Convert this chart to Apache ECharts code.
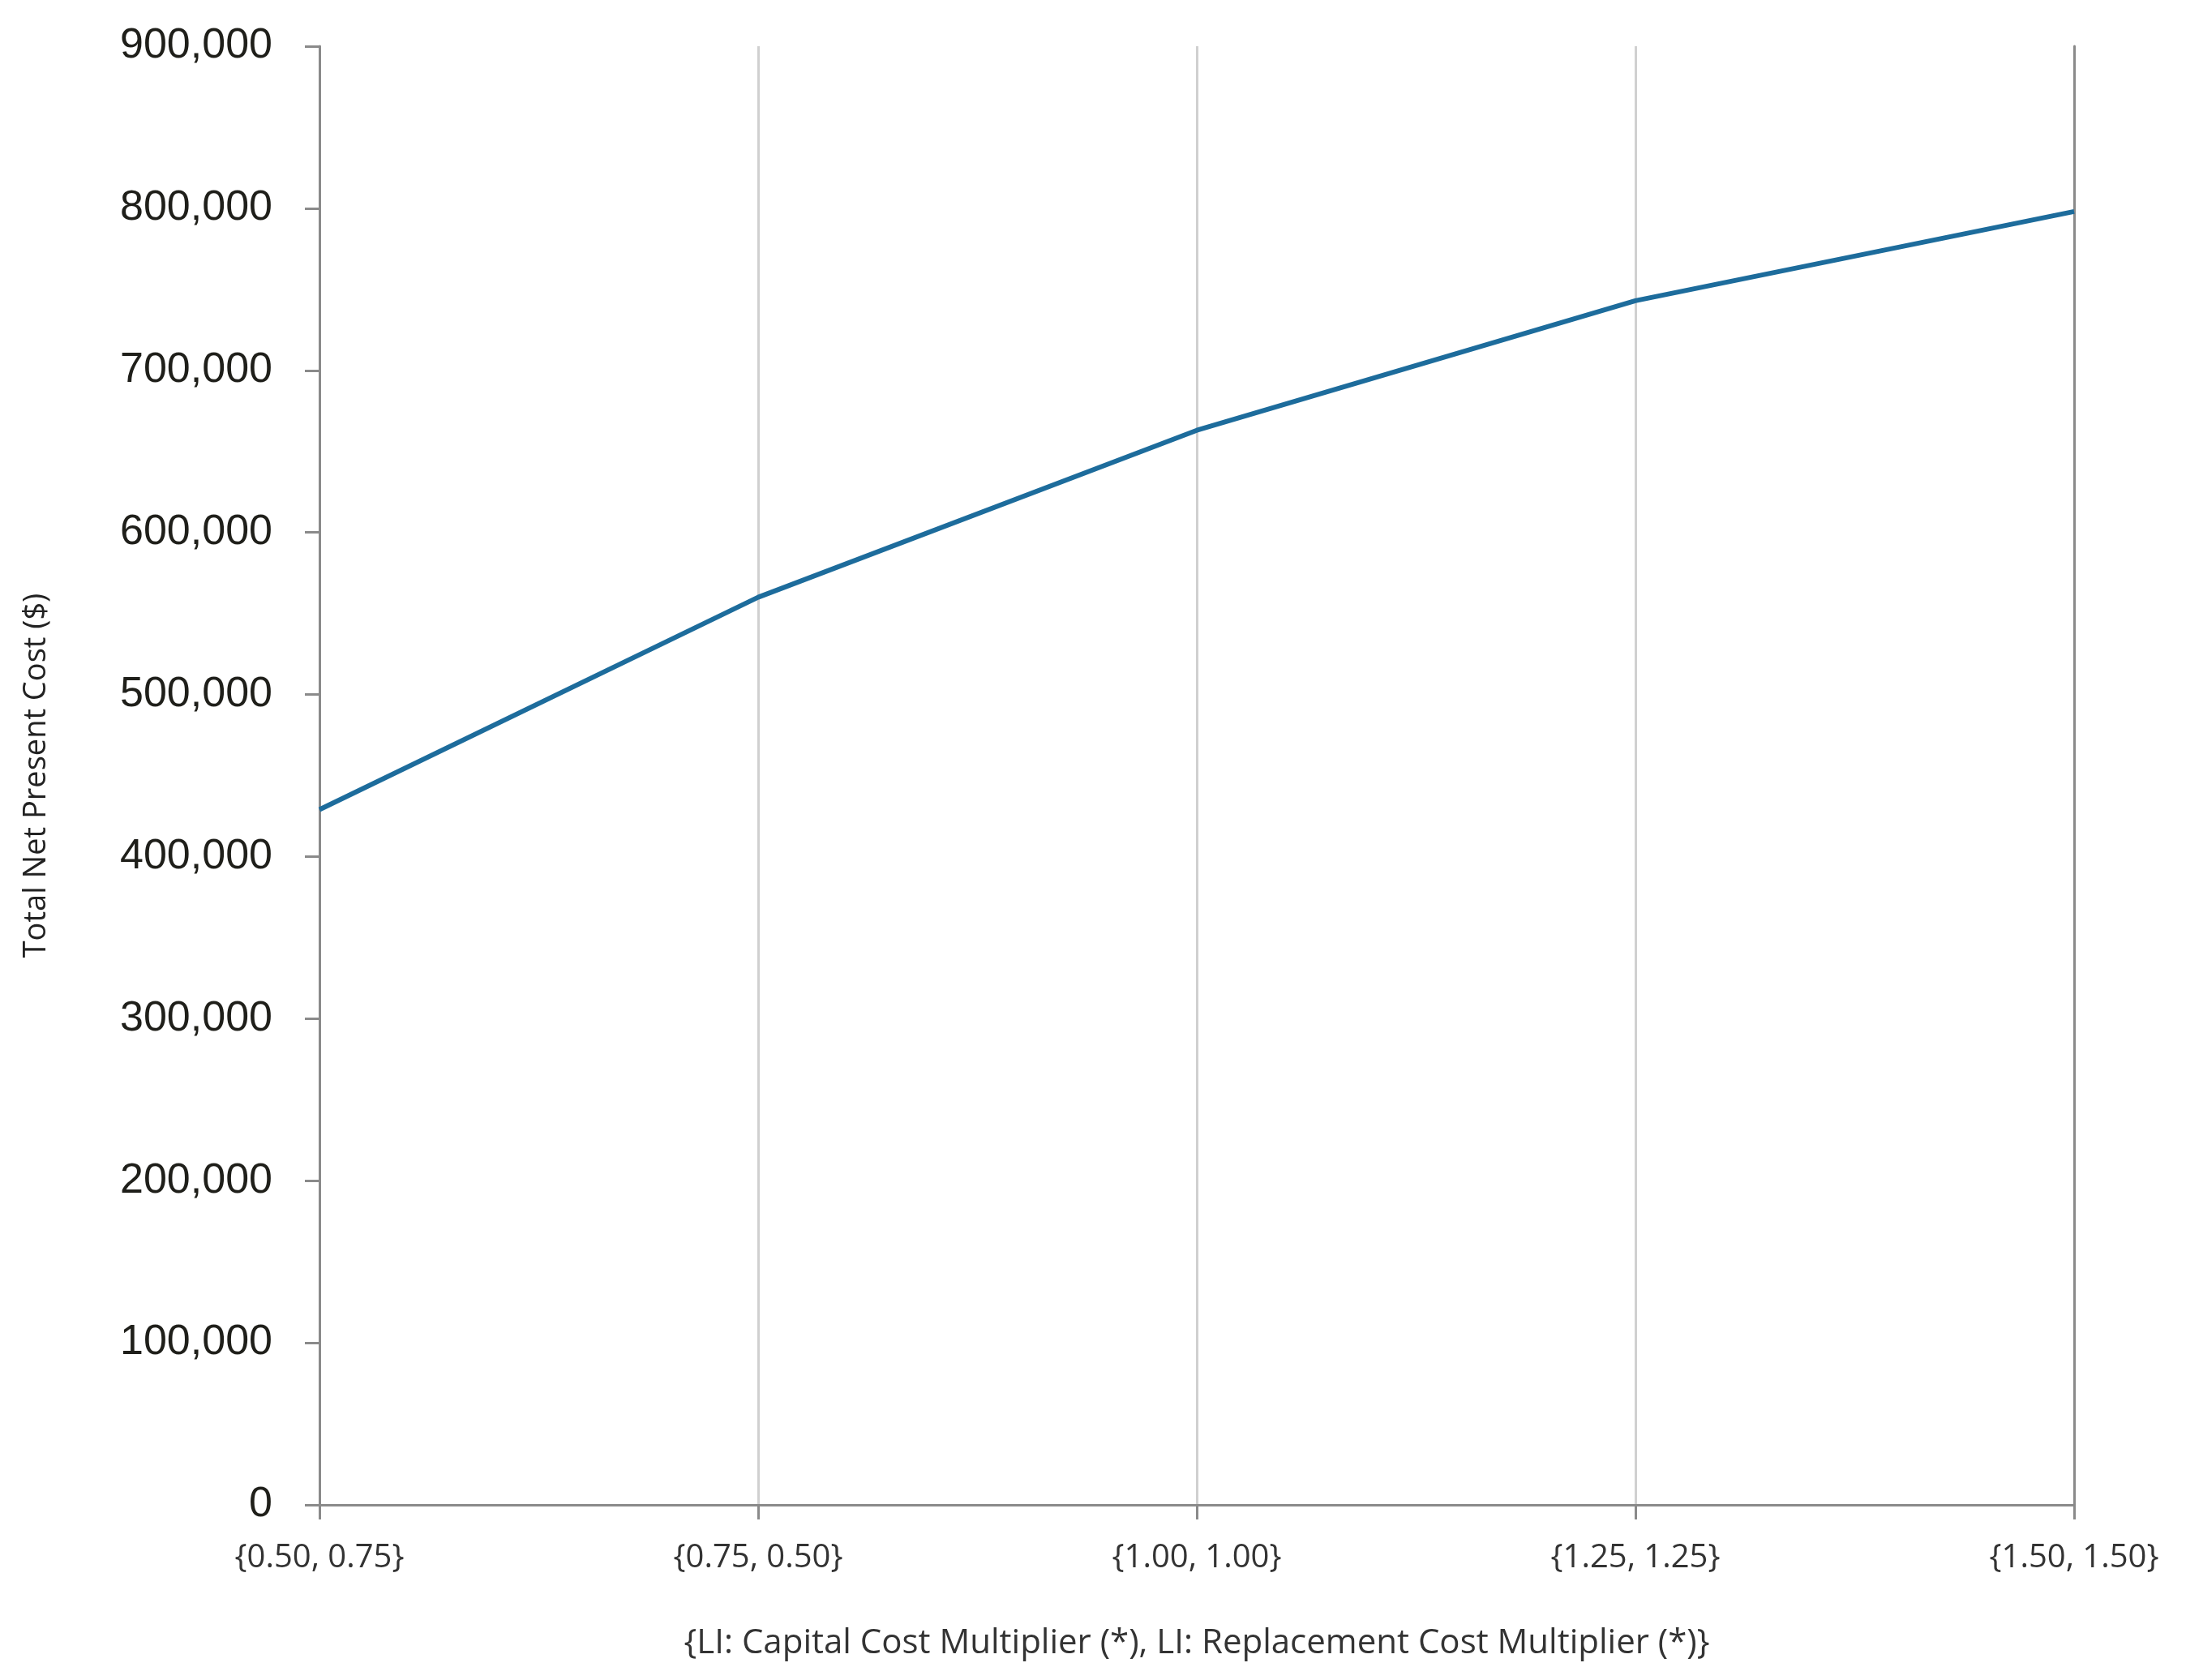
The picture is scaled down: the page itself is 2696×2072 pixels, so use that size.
<!DOCTYPE html>
<html><head><meta charset="utf-8">
<script src="https://cdn.jsdelivr.net/npm/echarts@6/dist/echarts.min.js"></script>
<style>html,body{margin:0;padding:0;background:#fff}#c{width:2696px;height:2072px}</style>
</head><body><div id="c"></div>
<script>
const categories = ['{0.50, 0.75}', '{0.75, 0.50}', '{1.00, 1.00}', '{1.25, 1.25}', '{1.50, 1.50}'];
const npcValues = [429000, 560000, 663000, 743000, 798000];
const yTicks = {min: 0, max: 900000, interval: 100000};

const chart = echarts.init(document.getElementById('c'));
chart.setOption({
  animation: false,
  grid: {left: 394, right: 138, top: 57, bottom: 216},
  xAxis: {
    type: 'category', data: categories, boundaryGap: false,
    name: '{LI: Capital Cost Multiplier (*), LI: Replacement Cost Multiplier (*)}',
    nameLocation: 'middle', nameGap: 150,
    nameTextStyle: {fontFamily: 'Open Sans', fontSize: 42, color: '#333'},
    axisLine: {lineStyle: {color: '#8a8a8a', width: 3}},
    axisTick: {alignWithLabel: true, length: 18, lineStyle: {color: '#8a8a8a', width: 3}},
    axisLabel: {fontFamily: 'Open Sans', fontSize: 40, color: '#333', margin: 46},
    splitLine: {show: true, lineStyle: {color: '#d0d0d0', width: 3}}
  },
  yAxis: [{
    type: 'value', min: yTicks.min, max: yTicks.max, interval: yTicks.interval,
    name: 'Total Net Present Cost ($)', nameLocation: 'middle', nameGap: 330, nameRotate: 90,
    nameTextStyle: {fontFamily: 'Open Sans', fontSize: 38, color: '#222'},
    axisLine: {show: true, lineStyle: {color: '#8a8a8a', width: 3}},
    axisTick: {show: true, length: 18, lineStyle: {color: '#8a8a8a', width: 3}},
    axisLabel: {fontFamily: 'Liberation Sans', fontSize: 52, color: '#1f1f1a', margin: 58,
      formatter: v => v.toLocaleString('en-US')},
    splitLine: {show: false}
  }, {
    type: 'value', position: 'right', min: yTicks.min, max: yTicks.max, interval: yTicks.interval,
    axisLine: {show: true, lineStyle: {color: '#8a8a8a', width: 3}},
    axisTick: {show: false}, axisLabel: {show: false}, splitLine: {show: false}
  }],
  series: [{
    type: 'line', data: npcValues, yAxisIndex: 0, showSymbol: false,
    lineStyle: {color: '#1d6c9c', width: 6}
  }]
});
</script></body></html>
